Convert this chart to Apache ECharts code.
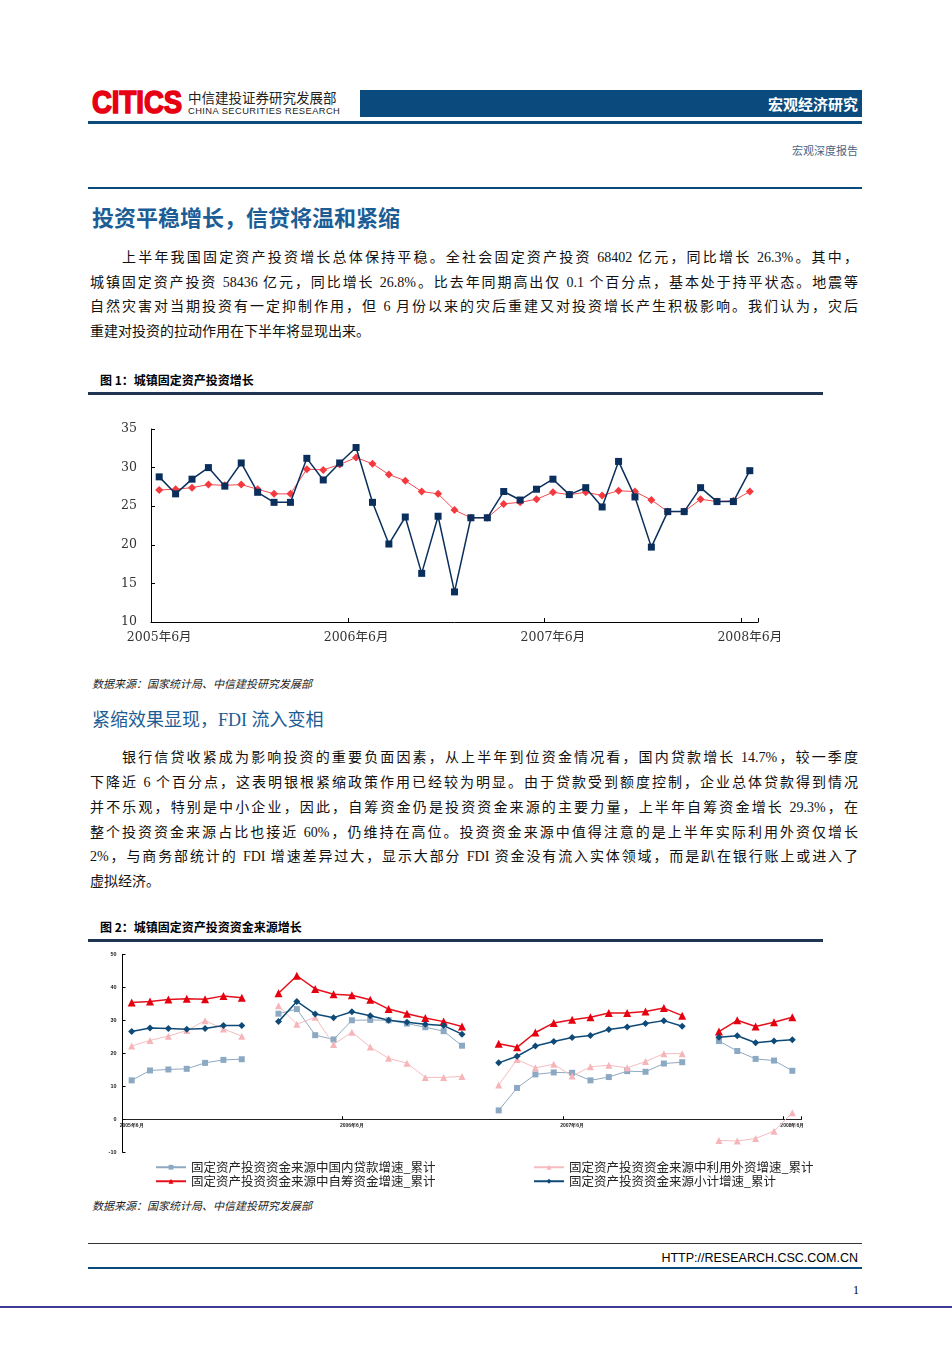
<!DOCTYPE html>
<html>
<head>
<meta charset="utf-8">
<script src="https://cdn.jsdelivr.net/npm/echarts@6/dist/echarts.min.js"></script>
<style>
  html,body{margin:0;padding:0;background:#fff;}
  #page{position:relative;width:952px;height:1347px;background:#fff;overflow:hidden;font-family:"Liberation Serif","Noto Sans CJK SC",serif;color:#111;}
  .abs{position:absolute;white-space:nowrap;}
  .pl{position:absolute;left:90px;width:768px;font-size:14px;line-height:20px;text-align:justify;text-align-last:justify;white-space:nowrap;}
  .pl.last{text-align-last:left;}
  .pl.ind{left:122px;width:736px;}
  .rule{position:absolute;}
</style>
</head>
<body>
<div id="page">
  <!-- header -->
  <div class="abs" style="left:92px;top:84px;font-family:'Liberation Sans',sans-serif;font-weight:900;font-size:32px;color:#e60012;-webkit-text-stroke:1.6px #e60012;transform:scaleX(0.86);transform-origin:left top;letter-spacing:0px;">CITICS</div>
  <div class="abs" style="left:188px;top:89px;font-family:'Noto Sans CJK SC',sans-serif;font-size:13.5px;line-height:16px;color:#222;">中信建投证券研究发展部</div>
  <div class="abs" style="left:188px;top:106px;font-family:'Liberation Sans',sans-serif;font-size:9.3px;line-height:11px;color:#222;letter-spacing:0.45px;">CHINA SECURITIES RESEARCH</div>
  <div class="rule" style="left:360px;top:90px;width:502px;height:27px;background:#0b4a7d;"></div>
  <div class="abs" style="right:94px;top:93px;font-family:'Noto Sans CJK SC',sans-serif;font-weight:bold;font-size:15px;line-height:22px;color:#fff;">宏观经济研究</div>
  <div class="rule" style="left:88px;top:121px;width:774px;height:3px;background:#0b4a7d;"></div>
  <div class="abs" style="right:94px;top:142px;font-family:'Noto Sans CJK SC',sans-serif;font-size:11px;line-height:16px;color:#4a6584;">宏观深度报告</div>
  <div class="rule" style="left:88px;top:187px;width:774px;height:2px;background:#0b4a7d;"></div>

  <!-- title -->
  <div class="abs" style="left:92px;top:201px;font-family:'Noto Sans CJK SC',sans-serif;font-weight:bold;font-size:22px;line-height:30px;color:#1d5d95;">投资平稳增长，信贷将温和紧缩</div>

  <div class="pl ind" style="top:248px;">上半年我国固定资产投资增长总体保持平稳。全社会固定资产投资 68402 亿元，同比增长 26.3%。其中，</div>
  <div class="pl" style="top:273px;">城镇固定资产投资 58436 亿元，同比增长 26.8%。比去年同期高出仅 0.1 个百分点，基本处于持平状态。地震等</div>
  <div class="pl" style="top:297px;">自然灾害对当期投资有一定抑制作用，但 6 月份以来的灾后重建又对投资增长产生积极影响。我们认为，灾后</div>
  <div class="pl last" style="top:322px;">重建对投资的拉动作用在下半年将显现出来。</div>

  <div class="abs" style="left:100px;top:372px;font-family:'Noto Sans CJK SC',sans-serif;font-weight:bold;font-size:12px;line-height:16px;color:#000;">图 1：城镇固定资产投资增长</div>
  <div class="rule" style="left:88px;top:392px;width:735px;height:3px;background:#1f3552;"></div>

  <div id="c1" style="position:absolute;left:0;top:400px;width:952px;height:265px;"></div>

  <div class="abs" style="left:92px;top:675px;font-family:'Noto Sans CJK SC',sans-serif;font-style:italic;font-size:11px;line-height:16px;color:#222;">数据来源：国家统计局、中信建投研究发展部</div>

  <div class="abs" style="left:92px;top:708px;font-family:'Liberation Serif','Noto Sans CJK SC',serif;font-size:18px;line-height:24px;color:#1d5d95;">紧缩效果显现，FDI 流入变相</div>

  <div class="pl ind" style="top:748px;">银行信贷收紧成为影响投资的重要负面因素，从上半年到位资金情况看，国内贷款增长 14.7%，较一季度</div>
  <div class="pl" style="top:773px;">下降近 6 个百分点，这表明银根紧缩政策作用已经较为明显。由于贷款受到额度控制，企业总体贷款得到情况</div>
  <div class="pl" style="top:798px;">并不乐观，特别是中小企业，因此，自筹资金仍是投资资金来源的主要力量，上半年自筹资金增长 29.3%，在</div>
  <div class="pl" style="top:823px;">整个投资资金来源占比也接近 60%，仍维持在高位。投资资金来源中值得注意的是上半年实际利用外资仅增长</div>
  <div class="pl" style="top:847px;">2%，与商务部统计的 FDI 增速差异过大，显示大部分 FDI 资金没有流入实体领域，而是趴在银行账上或进入了</div>
  <div class="pl last" style="top:872px;">虚拟经济。</div>

  <div class="abs" style="left:100px;top:919px;font-family:'Noto Sans CJK SC',sans-serif;font-weight:bold;font-size:12px;line-height:16px;color:#000;">图 2：城镇固定资产投资资金来源增长</div>
  <div class="rule" style="left:88px;top:939px;width:735px;height:3px;background:#1f3552;"></div>

  <div id="c2" style="position:absolute;left:0;top:945px;width:952px;height:245px;"></div>

  <div class="abs" style="left:92px;top:1197px;font-family:'Noto Sans CJK SC',sans-serif;font-style:italic;font-size:11px;line-height:16px;color:#222;">数据来源：国家统计局、中信建投研究发展部</div>

  <!-- footer -->
  <div class="rule" style="left:88px;top:1243px;width:774px;height:1px;background:#333;"></div>
  <div class="abs" style="right:94px;top:1250px;font-family:'Liberation Sans',sans-serif;font-size:12.5px;line-height:16px;color:#000;">HTTP://RESEARCH.CSC.COM.CN</div>
  <div class="rule" style="left:88px;top:1267px;width:774px;height:2px;background:#0b4a7d;"></div>
  <div class="abs" style="right:93px;top:1283px;font-family:'Liberation Serif',serif;font-size:12px;line-height:14px;color:#000;">1</div>
  <div class="rule" style="left:0;top:1306px;width:952px;height:2px;background:#3f3a96;"></div>
</div>

<script>
// ---------- shared categories ----------
var months = [
  '2005年6月','2005年7月','2005年8月','2005年9月','2005年10月','2005年11月','2005年12月',
  '2006年1月','2006年2月','2006年3月','2006年4月','2006年5月','2006年6月','2006年7月',
  '2006年8月','2006年9月','2006年10月','2006年11月','2006年12月',
  '2007年1月','2007年2月','2007年3月','2007年4月','2007年5月','2007年6月','2007年7月',
  '2007年8月','2007年9月','2007年10月','2007年11月','2007年12月',
  '2008年1月','2008年2月','2008年3月','2008年4月','2008年5月','2008年6月'
];

// ---------- chart 1: 城镇固定资产投资增长 ----------
var fig1Monthly = [28.8,26.6,28.5,30.0,27.6,30.6,26.8,25.5,25.5,31.2,28.4,30.6,32.6,25.5,20.1,23.6,16.3,23.7,13.9,23.5,23.5,26.9,25.8,27.2,28.5,26.5,27.4,24.9,30.8,26.2,19.7,24.3,24.3,27.4,25.6,25.6,29.6];
var fig1Cumulative = [27.1,27.2,27.4,27.8,27.7,27.8,27.2,26.6,26.6,29.8,29.7,30.4,31.3,30.5,29.1,28.3,26.9,26.6,24.5,23.5,23.5,25.3,25.5,25.9,26.8,26.5,26.8,26.4,27.0,26.9,25.8,24.3,24.3,25.9,25.6,25.7,26.9];
var fig1Ticks = {min:10, max:35, step:5};

// ---------- chart 2: 城镇固定资产投资资金来源增长 ----------
var fig2Names = [
  '固定资产投资资金来源中国内贷款增速_累计',
  '固定资产投资资金来源中利用外资增速_累计',
  '固定资产投资资金来源中自筹资金增速_累计',
  '固定资产投资资金来源小计增速_累计'
];
var fig2Loan = [11.8,14.8,15.1,15.3,17.1,18.0,18.2,null,32.0,33.4,25.5,24.2,30.0,30.1,30.0,29.0,27.9,26.7,22.3,null,2.7,9.5,13.6,14.2,14.1,11.8,12.8,14.6,14.4,16.9,17.3,null,23.7,20.7,18.3,17.8,14.7];
var fig2Foreign = [22.2,23.9,25.2,26.9,29.9,27.4,25.2,null,34.4,28.8,30.9,22.7,26.4,21.9,18.5,17.0,12.7,12.7,13.0,null,10.4,18.1,15.6,16.7,13.1,15.9,16.4,15.6,17.5,19.9,19.9,null,-6.4,-6.6,-5.8,-3.6,2.0];
var fig2SelfRaised = [35.4,35.7,36.3,36.5,36.4,37.4,36.8,null,38.2,43.5,39.5,37.9,37.6,36.2,33.4,32.0,30.7,29.6,28.1,null,22.9,21.8,26.3,29.2,30.2,30.9,32.2,32.2,32.7,33.7,31.4,null,26.6,30.0,28.1,29.4,30.9];
var fig2Subtotal = [26.6,27.7,27.5,27.3,27.5,28.4,28.4,null,29.6,35.7,31.9,30.8,32.6,31.4,30.0,29.4,28.8,28.4,25.8,null,17.1,19.1,22.2,23.6,24.8,25.4,27.2,28.0,29.0,29.9,28.2,null,24.9,25.3,23.2,23.7,24.1];
var fig2Ticks = {min:-10, max:50, step:10};

var serifFont = "'DejaVu Serif','Noto Sans CJK SC',serif";

var c1 = echarts.init(document.getElementById('c1'), null, {renderer:'canvas'});
c1.setOption({
  animation:false,
  grid:{left:151, top:29, width:607, height:193},
  xAxis:{
    type:'category', data:months, boundaryGap:true,
    axisLine:{lineStyle:{color:'#000', width:1}},
    axisTick:{show:true, inside:true, length:4, interval:11, lineStyle:{color:'#000'}},
    axisLabel:{interval:11, color:'#333', fontSize:12.5, fontFamily:serifFont, margin:9}
  },
  yAxis:{
    type:'value', min:fig1Ticks.min, max:fig1Ticks.max, interval:fig1Ticks.step,
    axisLine:{show:true, lineStyle:{color:'#000', width:1}},
    axisTick:{show:true, inside:true, length:4, lineStyle:{color:'#000'}},
    splitLine:{show:false},
    axisLabel:{color:'#333', fontSize:12.5, fontFamily:serifFont, margin:14}
  },
  series:[
    {name:'累计同比', type:'line', data:fig1Cumulative, symbol:'diamond', symbolSize:8,
     itemStyle:{color:'#f43a3f'}, lineStyle:{color:'#f04a4e', width:1}, z:2},
    {name:'当月同比', type:'line', data:fig1Monthly, symbol:'rect', symbolSize:7,
     itemStyle:{color:'#0b2f5c'}, lineStyle:{color:'#0b2f5c', width:1.5}, z:3}
  ]
});

var c2 = echarts.init(document.getElementById('c2'), null, {renderer:'canvas'});
var legendText = {fontSize:12.5, color:'#222', fontFamily:"'Noto Sans CJK SC',sans-serif"};
// zero line sits 33px above the bottom of the plot (value range -10..50 over 198px)
var zeroOffset = -198 * (0 - fig2Ticks.min) / (fig2Ticks.max - fig2Ticks.min);
c2.setOption({
  animation:false,
  grid:{left:122.5, top:9.3, width:679, height:198},
  legend:[
    {data:[fig2Names[0]], left:150, top:211, itemWidth:30, itemHeight:6, itemGap:6, textStyle:legendText},
    {data:[fig2Names[1]], left:528, top:211, itemWidth:30, itemHeight:6, itemGap:6, textStyle:legendText},
    {data:[fig2Names[2]], left:150, top:225, itemWidth:30, itemHeight:6, itemGap:6, textStyle:legendText},
    {data:[fig2Names[3]], left:528, top:225, itemWidth:30, itemHeight:6, itemGap:6, textStyle:legendText}
  ],
  xAxis:{
    type:'category', data:months, boundaryGap:true, position:'bottom', offset:zeroOffset,
    axisLine:{onZero:false, lineStyle:{color:'#222', width:1}},
    axisTick:{show:true, inside:true, length:3, interval:11, lineStyle:{color:'#000'}},
    axisLabel:{interval:11, color:'#222', fontSize:5, fontWeight:'bold', margin:4}
  },
  yAxis:{
    type:'value', min:fig2Ticks.min, max:fig2Ticks.max, interval:fig2Ticks.step,
    axisLine:{show:true, lineStyle:{color:'#000', width:1}},
    axisTick:{show:true, inside:true, length:3, lineStyle:{color:'#000'}},
    splitLine:{show:false},
    axisLabel:{color:'#222', fontSize:5.5, fontWeight:'bold', margin:6}
  },
  series:[
    {name:fig2Names[0], type:'line', data:fig2Loan, symbol:'rect', symbolSize:6,
     itemStyle:{color:'#8ca9c4'}, lineStyle:{color:'#8fa9c1', width:1}},
    {name:fig2Names[1], type:'line', data:fig2Foreign, symbol:'triangle', symbolSize:7,
     itemStyle:{color:'#f6b6b9'}, lineStyle:{color:'#f6bcbf', width:1}},
    {name:fig2Names[2], type:'line', data:fig2SelfRaised, symbol:'triangle', symbolSize:8,
     itemStyle:{color:'#e6000f'}, lineStyle:{color:'#e6101c', width:1.5}},
    {name:fig2Names[3], type:'line', data:fig2Subtotal, symbol:'diamond', symbolSize:7,
     itemStyle:{color:'#0e4a78'}, lineStyle:{color:'#0e4a78', width:1.5}}
  ]
});
</script>
</body>
</html>
